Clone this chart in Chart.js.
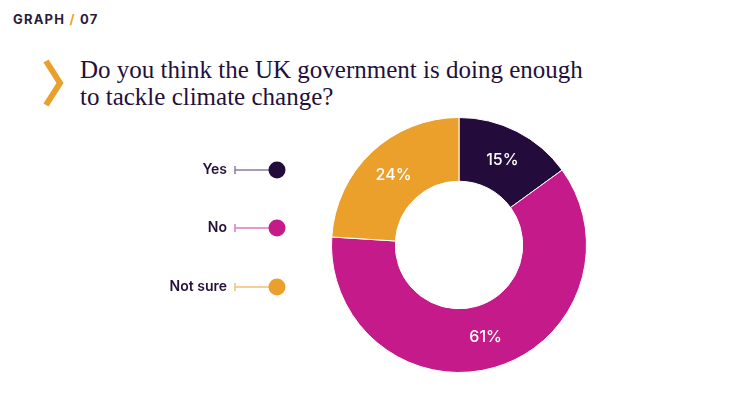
<!DOCTYPE html>
<html>
<head>
<meta charset="utf-8">
<script src="https://cdn.jsdelivr.net/npm/chart.js@4.4.1/dist/chart.umd.min.js"></script>
<style>
  html, body { margin: 0; padding: 0; background: #fff; }
  #wrap { position: relative; width: 750px; height: 393px; overflow: hidden; }
  #tag { position: absolute; left: 13px; top: 11px; font: 700 13px Inter, sans-serif; letter-spacing: 1.2px; color: #2a1b3d; }
  #tag span { color: #eba02c; }
  #chev { position: absolute; left: 40px; top: 58px; }
  #title { position: absolute; left: 80px; top: 56px; font: 400 25px "Liberation Serif", serif; line-height: 27px; color: #24103a; }
  canvas { position: absolute; left: 0; top: 0; }
</style>
</head>
<body>
<div id="wrap">
  <div id="tag">GRAPH <span>/</span> 07</div>
  <svg id="chev" width="26" height="50"><polyline points="6,3 20,25 6,47" fill="none" stroke="#eba02c" stroke-width="6"/></svg>
  <div id="title">Do you think the UK government is doing enough<br>to tackle climate change?</div>
  <canvas id="pie" width="750" height="393"></canvas>
</div>
<script>
// ========================================= climate question donut
const answers = ['Yes', 'No', 'Not sure'];
const shares = [15, 61, 24];
const colours = ['#230b3b', '#c51b8a', '#eba02c'];
const stemColours = ['#8b7d96', '#e07bbd', '#f3c274'];

// percentages inside each slice
const sliceLabels = {
  id: 'sliceLabels',
  afterDatasetsDraw(chart) {
    const ctx = chart.ctx;
    const meta = chart.getDatasetMeta(0);
    ctx.save();
    ctx.font = '500 16px Inter, sans-serif';
    ctx.fillStyle = '#fff';
    ctx.textAlign = 'center';
    ctx.textBaseline = 'middle';
    meta.data.forEach((arc, i) => {
      const p = arc.tooltipPosition();
      ctx.fillText(shares[i] + '%', p.x, p.y);
    });
    ctx.restore();
  }
};

// legend on the left with little stems
const stemLegend = {
  id: 'stemLegend',
  afterDraw(chart) {
    const ctx = chart.ctx;
    const rowsY = [170, 228, 287];
    ctx.save();
    answers.forEach((a, i) => {
      const y = rowsY[i];
      ctx.font = '600 14px Inter, sans-serif';
      ctx.fillStyle = '#24103a';
      ctx.textAlign = 'right';
      ctx.textBaseline = 'middle';
      ctx.fillText(a, 227, y);
      ctx.strokeStyle = stemColours[i];
      ctx.lineWidth = 1.5;
      ctx.beginPath();
      ctx.moveTo(235, y); ctx.lineTo(272, y);
      ctx.moveTo(235, y - 4); ctx.lineTo(235, y + 4);
      ctx.stroke();
      ctx.fillStyle = colours[i];
      ctx.beginPath();
      ctx.arc(277, y, 8.5, 0, Math.PI * 2);
      ctx.fill();
    });
    ctx.restore();
  }
};

const ctp = document.getElementById('pie').getContext('2d');
const pieChart = new Chart(ctp, {
  type: 'doughnut',
  data: {
    labels: answers,
    datasets: [{
      data: shares,
      backgroundColor: colours,
      borderColor: '#fff',
      borderWidth: 1
    }]
  },
  options: {
    responsive: false,
    animation: false,
    cutout: '50%',
    layout: { padding: { left: 331, right: 163, top: 117, bottom: 20 } },
    plugins: {
      legend: { display: false },
      tooltip: { enabled: false }
    }
  },
  plugins: [sliceLabels, stemLegend]
});
</script>
</body>
</html>
